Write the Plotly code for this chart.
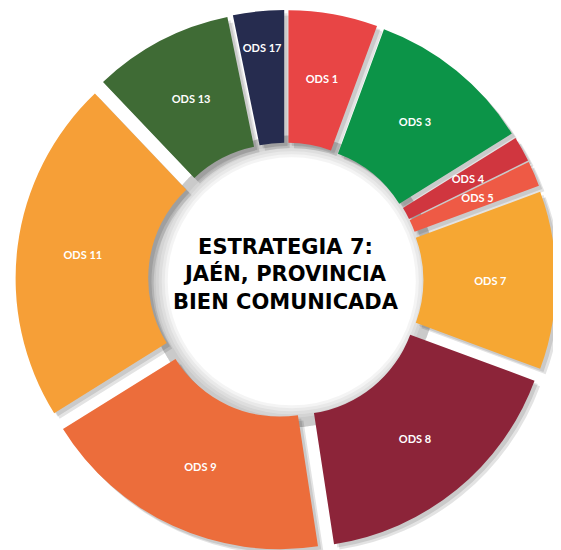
import plotly.graph_objects as go

labels = ["ODS 1", "ODS 3", "ODS 4", "ODS 5", "ODS 7", "ODS 8", "ODS 9", "ODS 11", "ODS 13", "ODS 17"]
values = [7, 13, 2, 2, 14, 21, 23, 27, 11, 4]
colors = ["#E84545", "#0C9448", "#D0363F", "#EE5A45", "#F6A733", "#8C2439",
          "#EC6D3B", "#F69F37", "#3F6B35", "#262C4F"]
center_text = "ESTRATEGIA 7:<br>JAÉN, PROVINCIA<br>BIEN COMUNICADA"

W, H = 561, 550
ML, MR, MT, MB = 6, 6, 2, 2
PW, PH = W - ML - MR, H - MT - MB

HOLE = 0.48
PULL = 0.06
# label placement tweak per slice (radial offset of the label ring)
label_pull = [0.06, 0.06, 0.0, 0.0, 0.06, 0.06, 0.06, 0.06, 0.06, 0.16]

main_dom = dict(x=[0.0, 0.99], y=[0.01, 1.0])
shadow_doms = [dict(x=[0.006, 0.996], y=[0.004, 0.994]),
               dict(x=[0.01, 1.0], y=[0.0, 0.99])]
cx = sum(main_dom["x"]) / 2
cy = sum(main_dom["y"]) / 2
f = 0.941
hw = (main_dom["x"][1] - main_dom["x"][0]) / 2 * f
hh = (main_dom["y"][1] - main_dom["y"][0]) / 2 * f
label_dom = dict(x=[cx - hw, cx + hw], y=[cy - hh, cy + hh])

common = dict(labels=labels, values=values, sort=False, direction="clockwise",
              rotation=0, showlegend=False)

fig = go.Figure()

# inner shadow of the hole: stacked translucent rings, slightly offset
ring_out = 146
ring_inner = [136, 133, 130, 127, 124]
rcx, rcy = cx + 6 / PW, cy - 1 / PH
for ri in ring_inner:
    fig.add_trace(go.Pie(
        values=[1], labels=["s"], sort=False, showlegend=False, hole=ri / ring_out,
        domain=dict(x=[rcx - ring_out / PW, rcx + ring_out / PW],
                    y=[rcy - ring_out / PH, rcy + ring_out / PH]),
        marker=dict(colors=["rgba(0,0,0,0.045)"], line=dict(width=0)),
        textinfo="none", hoverinfo="skip",
    ))
# soft drop shadow (two translucent layers)
for dom in shadow_doms:
    fig.add_trace(go.Pie(
        **common, domain=dom, hole=HOLE, pull=PULL,
        marker=dict(colors=["rgba(0,0,0,0.11)"] * len(labels), line=dict(width=0)),
        textinfo="none", hoverinfo="skip",
    ))
# slices
fig.add_trace(go.Pie(
    **common, domain=main_dom, hole=HOLE, pull=PULL,
    marker=dict(colors=colors, line=dict(width=0)),
    textinfo="none", hoverinfo="label+value",
))
# labels
fig.add_trace(go.Pie(
    **common, domain=label_dom, hole=0.746, pull=label_pull,
    marker=dict(colors=["rgba(0,0,0,0)"] * len(labels), line=dict(width=0)),
    text=labels, textinfo="text", textposition="inside",
    insidetextorientation="horizontal",
    textfont=dict(family="Lato", size=11, color="white", weight="bold"),
    hoverinfo="skip",
))
fig.update_layout(
    width=W, height=H,
    margin=dict(l=ML, r=MR, t=MT, b=MB),
    paper_bgcolor="white", plot_bgcolor="white",
    uniformtext=dict(minsize=11, mode="show"),
    annotations=[dict(text=center_text, x=cx, y=cy, xref="paper", yref="paper",
                      showarrow=False, yshift=6,
                      font=dict(family="DejaVu Sans", size=21, color="black",
                                weight="bold"))],
)
fig.write_html("out.html")
